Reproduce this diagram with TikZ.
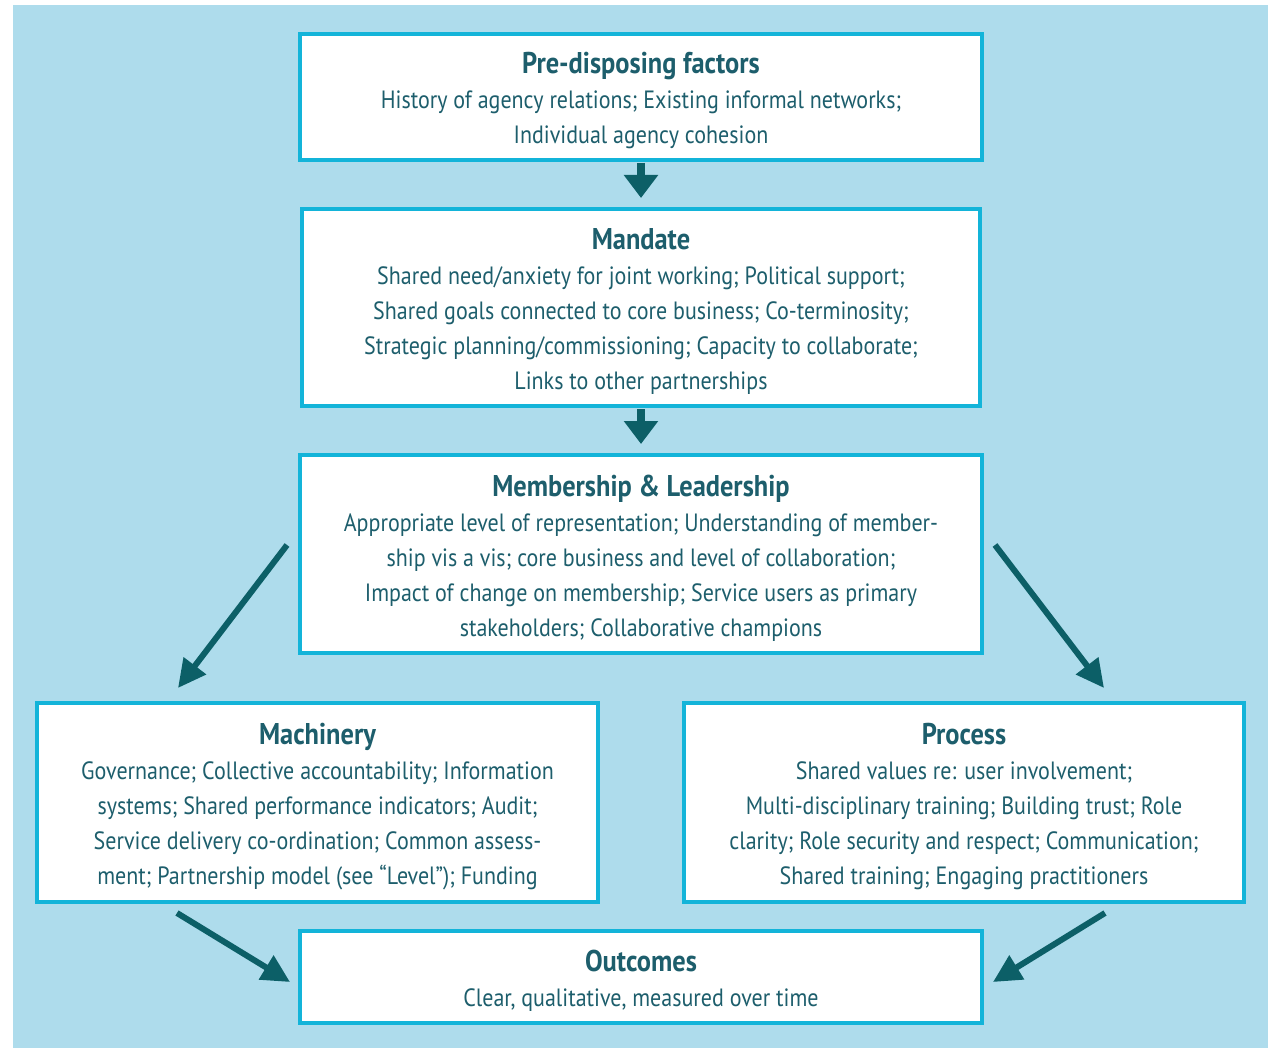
\documentclass[tikz,border=0pt]{standalone}
\usepackage{fontspec}
\setmainfont{PT Sans}[FakeStretch=0.88]
\usepackage{tikz}
\usetikzlibrary{arrows.meta}

\definecolor{fond}{HTML}{AEDCEC}
\definecolor{cadre}{HTML}{13B4D9}
\definecolor{encre}{HTML}{1D5E6C}
\definecolor{fleche}{HTML}{0C5F67}

\newcommand{\titre}[1]{{\fontsize{30}{34}\selectfont\bfseries\rule{0pt}{29pt}#1}\\[0pt]}

\begin{document}
\begin{tikzpicture}[x=1pt, y=-1pt,
    boite/.style={draw=cadre, line width=4pt, fill=white, text=encre,
      align=center, inner sep=0pt, font=\fontsize{25}{35}\selectfont},
    droite/.style={draw=fleche, line width=8pt,
      -{Triangle[width=33pt,length=23pt]}, shorten <=1pt, shorten >=9pt},
    oblique/.style={draw=fleche, line width=6pt,
      -{Triangle[width=27pt,length=28pt]}}]

    % fond
    \fill[white] (0, 0) rectangle (1268, 1048);
    \fill[fond] (13, 5) rectangle (1268, 1048);

    % boites
    \node[boite, minimum width=682pt, minimum height=126pt] (facteurs) at (641, 97)
      {\titre{Pre-disposing factors}
       History of agency relations; Existing informal networks;\\
       Individual agency cohesion};
    \node[boite, minimum width=678pt, minimum height=197pt] (mandat) at (641, 307.5)
      {\titre{Mandate}
       Shared need/anxiety for joint working; Political support;\\
       Shared goals connected to core business; Co-terminosity;\\
       Strategic planning/commissioning; Capacity to collaborate;\\
       Links to other partnerships};
    \node[boite, minimum width=682pt, minimum height=198pt] (membres) at (641, 554)
      {\titre{Membership \& Leadership}
       Appropriate level of representation; Understanding of member-\\
       ship vis a vis; core business and level of collaboration;\\
       Impact of change on membership; Service users as primary\\
       stakeholders; Collaborative champions};
    \node[boite, minimum width=561pt, minimum height=199pt] (machinerie) at (317.5, 802.5)
      {\titre{Machinery}
       Governance; Collective accountability; Information\\
       systems; Shared performance indicators; Audit;\\
       Service delivery co-ordination; Common assess-\\
       ment; Partnership model (see “Level”); Funding};
    \node[boite, minimum width=560pt, minimum height=199pt] (processus) at (964, 802.5)
      {\titre{Process}
       Shared values re: user involvement;\\
       Multi-disciplinary training; Building trust; Role\\
       clarity; Role security and respect; Communication;\\
       Shared training; Engaging practitioners};
    \node[boite, minimum width=682pt, minimum height=92pt] (resultats) at (641, 977)
      {\titre{Outcomes}
       Clear, qualitative, measured over time};

    % bouts des fleches obliques
    \coordinate (gA) at (287, 545);
    \coordinate (gB) at (178, 688);
    \coordinate (dA) at (995, 545);
    \coordinate (dB) at (1104, 688);
    \coordinate (bgA) at (177, 913);
    \coordinate (bgB) at (290, 982);
    \coordinate (bdA) at (1105, 913);
    \coordinate (bdB) at (993, 982);

    % fleches
    \draw[droite] (facteurs.south) -- (mandat.north);
    \draw[droite] (mandat.south) -- (membres.north);
    \draw[oblique] (gA) -- (gB);
    \draw[oblique] (dA) -- (dB);
    \draw[oblique] (bgA) -- (bgB);
    \draw[oblique] (bdA) -- (bdB);

\end{tikzpicture}
\end{document}
